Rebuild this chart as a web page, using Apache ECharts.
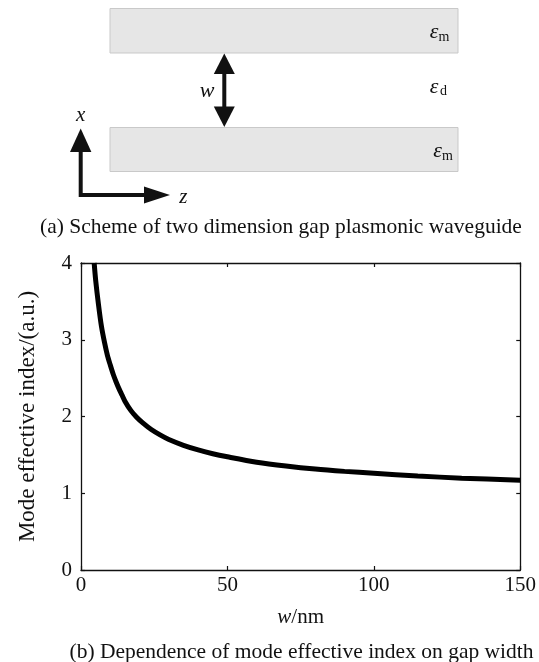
<!DOCTYPE html>
<html>
<head>
<meta charset="utf-8">
<script src="https://cdn.jsdelivr.net/npm/echarts@6/dist/echarts.min.js"></script>
<style>
html,body{margin:0;padding:0;background:#fff;}
#chart{width:539px;height:662px;}
</style>
</head>
<body>
<div id="chart"></div>
<script>
// ---- data ----
var gapWidth = [4.5, 5, 6, 7, 8, 9, 10, 11, 12, 13, 14, 15, 17, 19, 21, 24, 27, 30, 35, 40, 45, 50, 60, 70, 80, 90, 100, 115, 130, 150];
var modeIndex = [4.0, 3.78, 3.45, 3.17, 2.97, 2.8, 2.67, 2.55, 2.45, 2.36, 2.28, 2.2, 2.08, 1.99, 1.92, 1.83, 1.76, 1.70, 1.625, 1.565, 1.515, 1.475, 1.405, 1.355, 1.315, 1.285, 1.26, 1.225, 1.197, 1.17];
var xTicks = [0, 50, 100, 150];
var yTicks = [0, 1, 2, 3, 4];
var captionA = '(a) Scheme of two dimension gap plasmonic waveguide';
var captionB = '(b) Dependence of mode effective index on gap width';
var yAxisTitle = 'Mode effective index/(a.u.)';

var FONT = '"Liberation Serif", "Times New Roman", serif';
var pts = gapWidth.map(function (w, i) { return [w, modeIndex[i]]; });

var chart = echarts.init(document.getElementById('chart'), null, {renderer: 'canvas'});

function axisCommon(extra) {
  var base = {
    type: 'value',
    axisLine: {show: true, onZero: false, lineStyle: {color: '#111', width: 1.3}},
    axisTick: {show: true, inside: true, length: 4, lineStyle: {color: '#111', width: 1.2}},
    splitLine: {show: false},
    axisLabel: {color: '#111', fontFamily: FONT, fontSize: 21}
  };
  for (var k in extra) base[k] = extra[k];
  return base;
}

var blk = '#111';
var graphics = [
  // metal slabs
  {type: 'rect', shape: {x: 110, y: 8.5, width: 348, height: 44.5}, style: {fill: '#e6e6e6', stroke: '#c9c9c9', lineWidth: 1}},
  {type: 'rect', shape: {x: 110, y: 127.5, width: 348, height: 44}, style: {fill: '#e6e6e6', stroke: '#c9c9c9', lineWidth: 1}},
  // double arrow (gap width)
  {type: 'line', shape: {x1: 224.3, y1: 70, x2: 224.3, y2: 110}, style: {stroke: blk, lineWidth: 4}},
  {type: 'polygon', shape: {points: [[224.3, 53.5], [213.8, 74], [234.8, 74]]}, style: {fill: blk}},
  {type: 'polygon', shape: {points: [[224.3, 127], [213.8, 106.5], [234.8, 106.5]]}, style: {fill: blk}},
  // coordinate arrows
  {type: 'polyline', shape: {points: [[80.7, 148], [80.7, 195], [148, 195]]}, style: {stroke: blk, lineWidth: 4, fill: null, lineJoin: 'miter'}},
  {type: 'polygon', shape: {points: [[80.7, 128.5], [70, 152], [91.4, 152]]}, style: {fill: blk}},
  {type: 'polygon', shape: {points: [[170, 195], [144, 186.5], [144, 203.5]]}, style: {fill: blk}},
  // scheme labels
  {type: 'text', style: {text: 'w', x: 207, y: 91.7, align: 'center', verticalAlign: 'middle', font: 'italic 22px ' + FONT, fill: blk}},
  {type: 'text', style: {text: 'x', x: 80.7, y: 115.5, align: 'center', verticalAlign: 'middle', font: 'italic 21px ' + FONT, fill: blk}},
  {type: 'text', style: {text: 'z', x: 183.3, y: 197.5, align: 'center', verticalAlign: 'middle', font: 'italic 21px ' + FONT, fill: blk}},
  {type: 'text', style: {text: 'ε', x: 434, y: 32, align: 'center', verticalAlign: 'middle', font: 'italic 22px ' + FONT, fill: blk}},
  {type: 'text', style: {text: 'm', x: 444, y: 37.5, align: 'center', verticalAlign: 'middle', font: '14px ' + FONT, fill: blk}},
  {type: 'text', style: {text: 'ε', x: 434, y: 87, align: 'center', verticalAlign: 'middle', font: 'italic 22px ' + FONT, fill: blk}},
  {type: 'text', style: {text: 'd', x: 443.5, y: 91.5, align: 'center', verticalAlign: 'middle', font: '14px ' + FONT, fill: blk}},
  {type: 'text', style: {text: 'ε', x: 437.7, y: 151, align: 'center', verticalAlign: 'middle', font: 'italic 22px ' + FONT, fill: blk}},
  {type: 'text', style: {text: 'm', x: 447.5, y: 156, align: 'center', verticalAlign: 'middle', font: '14px ' + FONT, fill: blk}},
  // captions
  {type: 'text', style: {text: captionA, x: 281, y: 227, align: 'center', verticalAlign: 'middle', font: '21.5px ' + FONT, fill: blk}},
  {type: 'text', style: {text: captionB, x: 301.5, y: 652, align: 'center', verticalAlign: 'middle', font: '21.5px ' + FONT, fill: blk}}
];

chart.setOption({
  animation: false,
  backgroundColor: '#fff',
  grid: {left: 81, right: 17, top: 263, bottom: 92, containLabel: false},
  xAxis: [
    axisCommon({
      position: 'bottom', min: xTicks[0], max: xTicks[xTicks.length - 1], interval: 50,
      axisLabel: {color: '#111', fontFamily: FONT, fontSize: 21, margin: 5},
      name: '{i|w}{n|/nm}', nameLocation: 'middle', nameGap: 37,
      nameTextStyle: {rich: {i: {fontFamily: FONT, fontStyle: 'italic', fontSize: 21, color: '#111'}, n: {fontFamily: FONT, fontSize: 21, color: '#111'}}}
    }),
    axisCommon({position: 'top', min: xTicks[0], max: xTicks[xTicks.length - 1], interval: 50, axisLabel: {show: false}})
  ],
  yAxis: [
    axisCommon({
      position: 'left', min: yTicks[0], max: yTicks[yTicks.length - 1], interval: 1,
      axisLabel: {color: '#111', fontFamily: FONT, fontSize: 21, margin: 9},
      name: yAxisTitle, nameLocation: 'middle', nameGap: 42, nameRotate: 90,
      nameTextStyle: {fontFamily: FONT, fontSize: 23, color: '#111'}
    }),
    axisCommon({position: 'right', min: yTicks[0], max: yTicks[yTicks.length - 1], interval: 1, axisLabel: {show: false}})
  ],
  series: [{
    type: 'line',
    data: pts,
    xAxisIndex: 0,
    yAxisIndex: 0,
    smooth: 0.3,
    showSymbol: false,
    clip: true,
    lineStyle: {color: '#000', width: 5}
  }],
  graphic: graphics
});
</script>
</body>
</html>
